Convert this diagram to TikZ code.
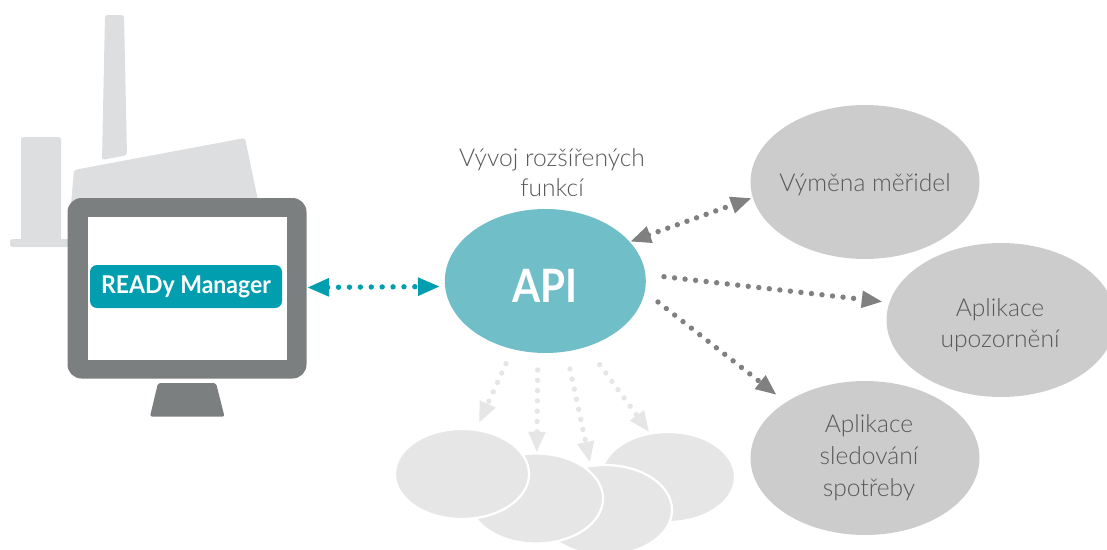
\documentclass[tikz,border=0pt]{standalone}
\usepackage{fontspec}
\setmainfont{Lato}
\newfontfamily\lightf{Lato Light}
\newfontfamily\boldf[FakeStretch=0.94]{Lato Bold}
\newfontfamily\apif[FakeStretch=0.88]{Lato Bold}
\usetikzlibrary{arrows.meta,shapes.geometric}
\definecolor{factory}{HTML}{DDDEE0}
\definecolor{monitor}{HTML}{7C7F7F}
\definecolor{teal}{HTML}{009EAE}
\definecolor{apifill}{HTML}{6FBEC8}
\definecolor{appfill}{HTML}{CCCCCC}
\definecolor{ghost}{HTML}{E6E6E6}
\definecolor{txt}{HTML}{58595B}
\definecolor{dark}{HTML}{808080}
\tikzset{
  factoryshape/.style={fill=factory,rounded corners=2.5pt},
  appell/.style={ellipse,fill=appfill,inner sep=0pt,minimum width=229pt,minimum height=154pt},
  lab/.style={text=txt,align=center,font=\lightf\fontsize{24.6}{31.5}\selectfont,inner sep=0pt},
  ghostell/.style={ellipse,fill=ghost,draw=white,line width=2.2pt,inner sep=0pt,minimum width=134pt,minimum height=90pt},
  dots/.style={line width=5.4pt,line cap=round,dash pattern=on 0pt off #1pt},
  darkarrow/.style={dots=10.6,draw=dark,-{Triangle[length=21pt,width=16pt,fill=dark]}},
  darkboth/.style={dots=10.2,draw=dark,{Triangle[length=21pt,width=16pt,fill=dark]}-{Triangle[length=21pt,width=16pt,fill=dark]}},
  tealboth/.style={dots=10.9,draw=teal,{Triangle[length=22pt,width=17pt,fill=teal]}-{Triangle[length=22pt,width=17pt,fill=teal]}},
  ghostarrow/.style={dots=10.3,draw=ghost,-{Triangle[length=21pt,width=16pt,fill=ghost]}},
}
\begin{document}
\begin{tikzpicture}[x=1pt,y=-1pt]
\useasboundingbox (0,0) rectangle (1107,549);
\clip (0,0) rectangle (1107,549);
% factory
\fill[factoryshape] (105,15) -- (124,15) -- (127,155) -- (102,160) -- cycle;
\fill[factoryshape] (21,137) rectangle (61,242);
\fill[factoryshape] (10,239) rectangle (75,247);
\fill[factoryshape] (74,170) -- (245,138) -- (259,205) -- (71,205) -- cycle;
% monitor
\fill[monitor,rounded corners=14pt] (67.5,198) rectangle (306.5,378.5);
\fill[white] (88,217) rectangle (287,360);
\fill[monitor,rounded corners=2pt] (158,383) -- (216,383) -- (224.5,416.5) -- (150,416.5) -- cycle;
\node[fill=teal,rounded corners=7pt,minimum width=192pt,minimum height=43pt,inner sep=0pt,text=white,
  font=\boldf\fontsize{24.5}{26}\selectfont] (rm) at (186,286.5) {READy Manager};
% ellipses
\node[ellipse,fill=apifill,inner sep=0pt,minimum width=201pt,minimum height=144pt] (api) at (545.3,281) {};
\node[text=white,font=\apif\fontsize{46}{46}\selectfont,inner sep=0pt] (apit) at (545,286) {API};
\node[appell] (vym) at (865,182) {};
\node[appell] (upo) at (1001,320) {};
\node[appell] (sle) at (865,458) {};
\node[lab] (vymt) at (865,185) {Výměna měřidel};
\node[lab] (upot) at (1000,325) {Aplikace\\upozornění};
\node[lab,font=\lightf\fontsize{24.6}{32}\selectfont] (slet) at (869,458) {Aplikace\\sledování\\spotřeby};
\node[lab,font=\lightf\fontsize{24.6}{30}\selectfont] (vyv) at (552,173) {Vývoj rozšířených\\funkcí};
\node[ghostell] (g4) at (668,477) {};
\node[ghostell] (g3) at (605,510) {};
\node[ghostell] (g2) at (536,498.5) {};
\node[ghostell] (g1) at (462,474) {};
% connector ends
\coordinate (t1) at (307,287.5);
\coordinate (t2) at (440,286.5);
\coordinate (d1a) at (630,241.7);
\coordinate (d1b) at (751.7,198);
\coordinate (d2a) at (664,276.7);
\coordinate (d2b) at (882.7,301.7);
\coordinate (d3a) at (658,302);
\coordinate (d3b) at (776.7,395);
\coordinate (l1a) at (506,363.7);
\coordinate (l1b) at (479,423);
\coordinate (l2a) at (537.7,370);
\coordinate (l2b) at (536.7,452.7);
\coordinate (l3a) at (570,369);
\coordinate (l3b) at (590,462.7);
\coordinate (l4a) at (599.7,364.7);
\coordinate (l4b) at (649.3,432.3);
\draw[tealboth] (t1) -- (t2);
\draw[darkboth] (d1a) -- (d1b);
\draw[darkarrow] (d2a) -- (d2b);
\draw[darkarrow] (d3a) -- (d3b);
\draw[ghostarrow] (l1a) -- (l1b);
\draw[ghostarrow] (l2a) -- (l2b);
\draw[ghostarrow] (l3a) -- (l3b);
\draw[ghostarrow] (l4a) -- (l4b);
\end{tikzpicture}
\end{document}
